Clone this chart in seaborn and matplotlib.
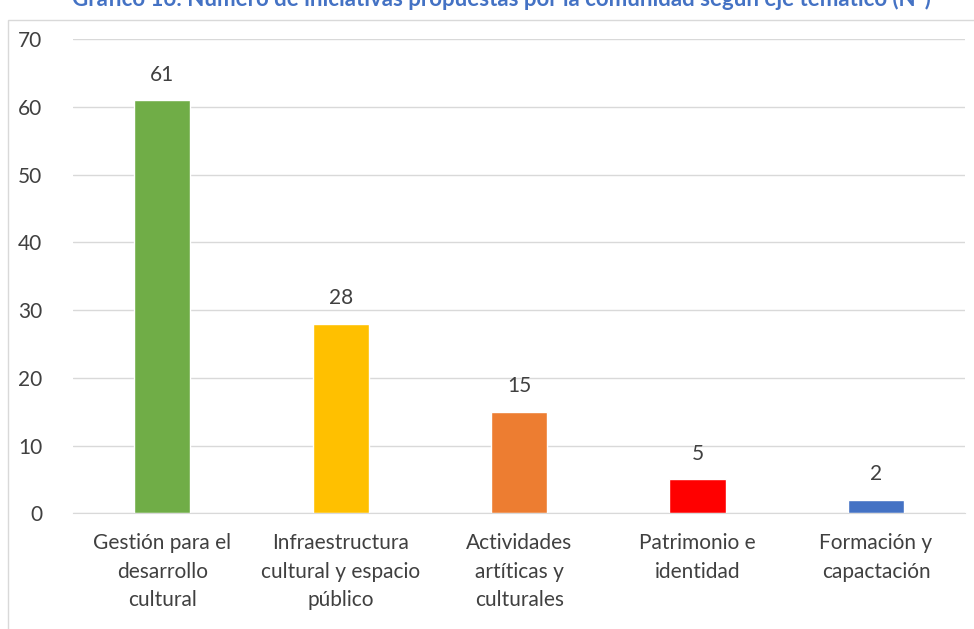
import seaborn as sns
import matplotlib.pyplot as plt
import matplotlib.patches as patches
import pandas as pd

# Data
categorias = [
    "Gestión para el\ndesarrollo\ncultural",
    "Infraestructura\ncultural y espacio\npúblico",
    "Actividades\nartíticas y\nculturales",
    "Patrimonio e\nidentidad",
    "Formación y\ncapactación",
]
valores = [61, 28, 15, 5, 2]
colores = ["#70AD47", "#FFC000", "#ED7D31", "#FF0000", "#4472C4"]
titulo = "Gráfico 16: Número de iniciativas propuestas por la comunidad según eje temático (N°)"

df = pd.DataFrame({"eje": categorias, "n": valores})

sns.set_style("white")
plt.rcParams["font.family"] = ["Lato", "DejaVu Sans"]

fig = plt.figure(figsize=(9.74, 6.29), dpi=100)
ax = fig.add_axes([0.075, 0.184, 0.916, 0.754])

sns.barplot(data=df, x="eje", y="n", hue="eje", palette=colores,
            legend=False, width=0.316, saturation=1, ax=ax)

ax.set_ylim(0, 70)
ax.set_yticks(range(0, 71, 10))
ax.yaxis.grid(True, color="#D9D9D9", linewidth=1)
ax.set_axisbelow(True)
for s in ["top", "right", "left"]:
    ax.spines[s].set_visible(False)
ax.spines["bottom"].set_color("#D9D9D9")
ax.set_xlabel("")
ax.set_ylabel("")
ax.tick_params(axis="both", length=0, labelsize=15, colors="#404040")
ax.tick_params(axis="y", pad=22)
ax.tick_params(axis="x", pad=14)
for lbl in ax.get_xticklabels():
    lbl.set_linespacing(1.55)
ax.set_xlim(-0.5, 4.5)

for i, v in enumerate(valores):
    ax.annotate(str(v), (i, v), xytext=(0, 11), textcoords="offset points",
                ha="center", va="bottom", fontsize=15, color="#404040")

# chart frame
fig.patches.append(patches.Rectangle((8 / 974, -0.05), 1.0, 1 - 20 / 629 + 0.05,
                                     transform=fig.transFigure, fill=False,
                                     edgecolor="#D9D9D9", linewidth=1))

# title sits partly above the frame, as in the reference
fig.text(0.515, 1 - 6 / 629, titulo, ha="center", va="baseline",
         fontsize=16, fontweight="bold", color="#4472C4")

plt.savefig("out.png", dpi=100)
